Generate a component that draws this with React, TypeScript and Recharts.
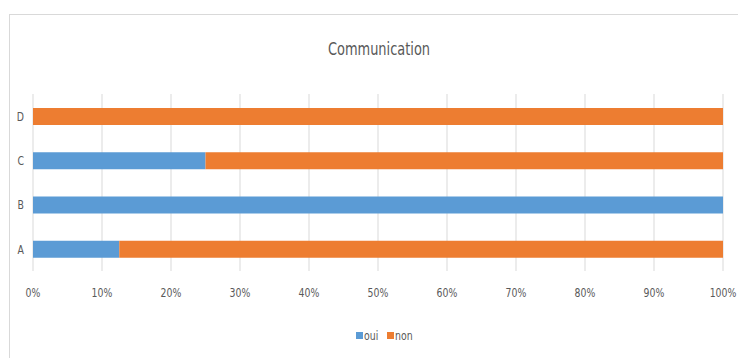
import { BarChart, Bar, XAxis, YAxis, CartesianGrid, Legend } from 'recharts';

const categories = ['A', 'B', 'C', 'D'];
const seriesNames = ['oui', 'non'];
const oui = [0.125, 1, 0.25, 0];
const non = [0.875, 0, 0.75, 1];
const ticks = [0, 0.1, 0.2, 0.3, 0.4, 0.5, 0.6, 0.7, 0.8, 0.9, 1];

const FONT = '"DejaVu Sans", sans-serif';
const TEXT = '#595959';
const SQUEEZE = 0.72;

const data = categories.map((name, i) => ({ name, oui: oui[i], non: non[i] }));

// narrow ticks, the original was drawn with a condensed font
const NarrowTick = (props: any) => {
  const { x, y, payload, textAnchor, formatter, dy } = props;
  const label = formatter ? formatter(payload.value) : payload.value;
  return (
    <text
      transform={`translate(${x},${y}) scale(${SQUEEZE},1)`}
      textAnchor={textAnchor}
      dy={dy}
      fontFamily={FONT}
      fontSize={13}
      fill={TEXT}
    >
      {label}
    </text>
  );
};

const pct = (v: number) => `${Math.round(v * 100)}%`;

const renderLegend = (props: any) => {
  const payload = [...props.payload].sort(
    (a: any, b: any) => seriesNames.indexOf(a.value) - seriesNames.indexOf(b.value)
  );
  return (
    <div style={{ display: 'flex', justifyContent: 'center', fontFamily: FONT, fontSize: 13, color: TEXT }}>
      {payload.map((p: any) => (
        <span key={p.value} style={{ display: 'inline-flex', alignItems: 'center', marginRight: 5 }}>
          <span style={{ width: 7, height: 7, background: p.color, display: 'inline-block', marginRight: 1 }} />
          <span style={{ display: 'inline-block', transform: `scaleX(${SQUEEZE})`, transformOrigin: 'left center', width: p.value.length * 6 }}>
            {p.value}
          </span>
        </span>
      ))}
    </div>
  );
};

export default function App() {
  return (
    <div style={{ position: 'absolute', left: 0, top: 0, width: 738, height: 358, background: '#fff', overflow: 'hidden' }}>
      <div
        style={{
          position: 'absolute',
          left: 9,
          top: 14,
          width: 760,
          height: 360,
          border: '1px solid #d9d9d9',
          boxSizing: 'border-box',
        }}
      />
      <div
        style={{
          position: 'absolute',
          left: 0,
          width: 758,
          top: 38,
          textAlign: 'center',
          fontFamily: FONT,
          fontSize: 18,
          color: TEXT,
          transform: `scaleX(${SQUEEZE})`,
        }}
      >
        Communication
      </div>
      <div style={{ position: 'absolute', left: 0, top: 0 }}>
        <BarChart
          width={738}
          height={358}
          data={data}
          layout="vertical"
          margin={{ top: 94, right: 15, bottom: 42, left: 13 }}
          barSize={17}
        >
          <CartesianGrid horizontal={false} stroke="#d9d9d9" />
          <XAxis
            type="number"
            domain={[0, 1]}
            ticks={ticks}
            axisLine={false}
            tickLine={false}
            tickSize={0}
            tickMargin={17}
            height={30}
            interval={0}
            tick={<NarrowTick formatter={pct} dy="0.71em" />}
          />
          <YAxis
            type="category"
            dataKey="name"
            reversed
            width={20}
            axisLine={false}
            tickLine={false}
            tickSize={0}
            tickMargin={9}
            tick={<NarrowTick dy="0.355em" />}
          />
          <Legend
            verticalAlign="bottom"
            content={renderLegend}
            wrapperStyle={{ bottom: 15, left: 9, width: 756 }}
          />
          <Bar dataKey="oui" name="oui" stackId="a" fill="#5B9BD5" isAnimationActive={false} />
          <Bar dataKey="non" name="non" stackId="a" fill="#ED7D31" isAnimationActive={false} />
        </BarChart>
      </div>
    </div>
  );
}
